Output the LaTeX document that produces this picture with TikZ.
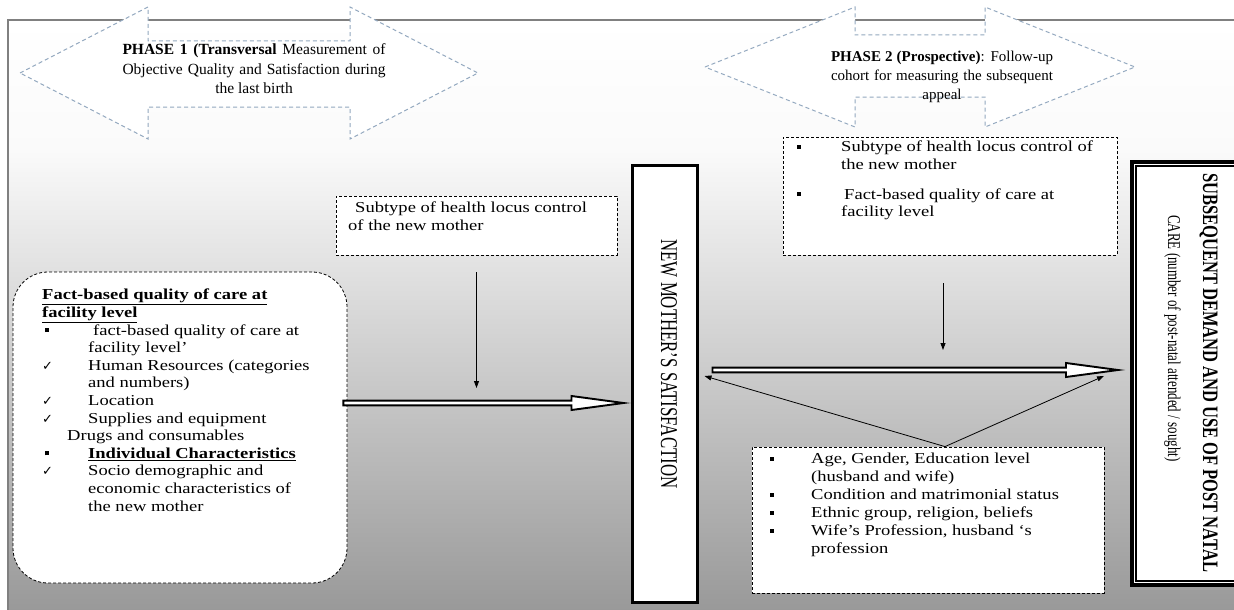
\documentclass[tikz,border=0pt]{standalone}
\usepackage{fontspec}
\usepackage{graphicx}
\setmainfont{Liberation Serif}[FakeStretch=1.22]
\newfontfamily\vfont{Liberation Serif}
\newfontfamily\symfont{DejaVu Sans}
\usetikzlibrary{calc,arrows.meta}
\definecolor{framegray}{HTML}{808080}
\definecolor{phasecol}{HTML}{93A8BF}
\definecolor{bgbot}{HTML}{999999}
\definecolor{bgmid}{HTML}{FAFAFA}
\pgfdeclareverticalshading{bgshade}{100bp}{color(0bp)=(bgbot); color(26.6bp)=(bgbot); color(64.3bp)=(bgmid); color(75bp)=(white); color(100bp)=(white)}
\newcommand\sqb{\rule[3pt]{4pt}{4pt}}
\newcommand\chk{{\symfont\fontsize{13}{13}\selectfont ✓}}
\tikzset{
  phasearrow/.style={draw=phasecol, line width=1pt, dash pattern=on 4pt off 3pt, fill=white},
  dbox/.style={draw=black, line width=0.8pt, dash pattern=on 3pt off 2pt, fill=white, inner sep=0pt},
  lbox/.style={dbox, rounded corners=35pt},
  txt/.style={inner sep=0pt, align=left, anchor=north west, font=\fontsize{15.2}{17.6}\selectfont},
  phasetxt/.style={inner sep=0pt, align=center, anchor=north},
  thinarrow/.style={draw=black, line width=0.8pt, -{Triangle[length=7pt,width=5pt]}},
  hollow/.style={fill=white, draw=black, line width=1.9pt, line join=miter, miter limit=10},
  solidbox/.style={draw=black, fill=white, inner sep=0pt}
}
\newcommand\hollowarrow[2]{%
  \filldraw[hollow] let \p1=(#1), \p2=(#2) in
    (\x1,\y1+2.4pt) -- (\x2-52pt,\y1+2.4pt) -- (\x2-52pt,\y1+7pt) -- (\x2,\y1)
    -- (\x2-52pt,\y1-7pt) -- (\x2-52pt,\y1-2.4pt) -- (\x1,\y1-2.4pt) -- cycle;}
\begin{document}
\begin{tikzpicture}[x=1pt,y=-1pt]
\useasboundingbox (0,0) rectangle (1234,610);
\fill[white] (0,0) rectangle (1234,610);
\clip (0,0) rectangle (1234,610);
% background frame
\shade[shading=bgshade] (8,20) rectangle (1250,630);
\draw[framegray, line width=1.5pt] (8,20) rectangle (1250,630);

% phase 1 double arrow
\draw[phasearrow] (20,73) -- (148,7) -- (148,41) -- (350,41) -- (350,7) -- (478,73)
  -- (350,139) -- (350,107) -- (148,107) -- (148,139) -- cycle;
\node[phasetxt, font=\vfont\fontsize{15.5}{19.5}\selectfont] (p1t) at (254,43.5) {\makebox[263pt][s]{\textbf{PHASE 1 (Transversal} Measurement of}\\
  \makebox[263pt][s]{Objective Quality and Satisfaction during}\\ the last birth};

% phase 2 double arrow
\draw[phasearrow] (705,67) -- (855,7) -- (855,35) -- (985,35) -- (985,7) -- (1135,67)
  -- (985,127) -- (985,97) -- (855,97) -- (855,127) -- cycle;
\node[phasetxt, font=\vfont\fontsize{15}{19}\selectfont] (p2t) at (942,50.5) {\makebox[222pt][s]{\textbf{PHASE 2 (Prospective)}: Follow-up}\\
  \makebox[222pt][s]{cohort for measuring the subsequent}\\ appeal};

% left rounded box
\node[lbox, minimum width=334pt, minimum height=311pt] (lb) at (180,427.5) {};
\node[txt] (lbt) at (42,289) {%
  \textbf{\underline{Fact-based quality of care at}}\\
  \textbf{\underline{facility level}}\\
  \hspace*{3pt}\makebox[48pt][l]{\sqb}fact-based quality of care at\\
  \hspace*{46pt}facility level’\\
  \makebox[46pt][l]{\chk}Human Resources (categories\\
  \hspace*{46pt}and numbers)\\
  \makebox[46pt][l]{\chk}Location\\
  \makebox[46pt][l]{\chk}Supplies and equipment\\
  \hspace*{25pt}Drugs and consumables\\
  \hspace*{3pt}\makebox[43pt][l]{\sqb}\textbf{\underline{Individual Characteristics}}\\
  \makebox[46pt][l]{\chk}Socio demographic and\\
  \hspace*{46pt}economic characteristics of\\
  \hspace*{46pt}the new mother};

% middle dashed box
\node[dbox, minimum width=281pt, minimum height=59pt] (stb) at (476.5,225.5) {};
\node[txt] (stbt) at (348,202) {\hspace*{7pt}Subtype of health locus control\\of the new mother};

% new mother's satisfaction box
\node[solidbox, line width=3pt, minimum width=65pt, minimum height=437pt] (nms) at (664.5,383.5) {};
\node[rotate=-90, inner sep=0pt, font=\vfont\fontsize{24}{28}\selectfont] (nmst) at (669,364) {\scalebox{0.7}[1]{NEW MOTHER’S SATISFACTION}};

% right top dashed box
\node[dbox, minimum width=334pt, minimum height=118pt] (rtb) at (950,196) {};
\node[txt] (rtbt) at (797,141) {%
  \makebox[44pt][l]{\sqb}Subtype of health locus control of\\
  \hspace*{44pt}the new mother\\[12pt]
  \makebox[44pt][l]{\sqb}\hspace*{3pt}Fact-based quality of care at\\
  \hspace*{44pt}facility level};

% bottom dashed box
\node[dbox, minimum width=352pt, minimum height=146pt] (bb) at (928,520) {};
\node[txt, font=\fontsize{15.2}{18}\selectfont] (bbt) at (770,453) {%
  \makebox[41pt][l]{\sqb}Age, Gender, Education level\\
  \hspace*{41pt}(husband and wife)\\
  \makebox[41pt][l]{\sqb}Condition and matrimonial status\\
  \makebox[41pt][l]{\sqb}Ethnic group, religion, beliefs\\
  \makebox[41pt][l]{\sqb}Wife’s Profession, husband ‘s\\
  \hspace*{41pt}profession};

% subsequent demand box (double border)
\node[solidbox, line width=4pt, minimum width=118pt, minimum height=423pt] (sub) at (1191,373.5) {};
\draw[line width=1.2pt] ($(sub.north west)+(6,6)$) rectangle ($(sub.south east)+(-6,-6)$);
\node[rotate=-90, anchor=north west, inner sep=0pt, align=left, font=\vfont\fontsize{22}{35}\selectfont] (subt) at (1218,173)
  {\scalebox{0.75}[1]{\textbf{SUBSEQUENT DEMAND AND USE OF POST NATAL}}\\
   \hspace*{42pt}\scalebox{0.72}[1]{\fontsize{18}{35}\selectfont CARE (number of post-natal attended / sought)}};

% coordinates
\coordinate (c1) at (476.5,388);
\coordinate (c2) at (943,350);
\coordinate (t1s) at ($(lb.east)+(-4,-24.5)$);
\coordinate (t1e) at ($(nms.west |- t1s)+(-7,0)$);
\coordinate (t2s) at ($(nms.east)+(14,-13.5)$);
\coordinate (t2e) at ($(sub.west |- t2s)+(-12,0)$);
\coordinate (apex) at ($(bb.north)+(17,0)$);
\coordinate (e1) at ($(nms.east)+(6,-7.5)$);
\coordinate (e2) at ($(sub.west)+(-26,2.5)$);

% connectors
\draw[thinarrow, shorten <=17pt] (stb.south) -- (c1);
\draw[thinarrow, shorten <=28pt] (rtb.south -| c2) -- (c2);
\hollowarrow{t1s}{t1e}
\hollowarrow{t2s}{t2e}
\draw[thinarrow] (apex) -- (e1);
\draw[thinarrow] (apex) -- (e2);
\end{tikzpicture}
\end{document}
